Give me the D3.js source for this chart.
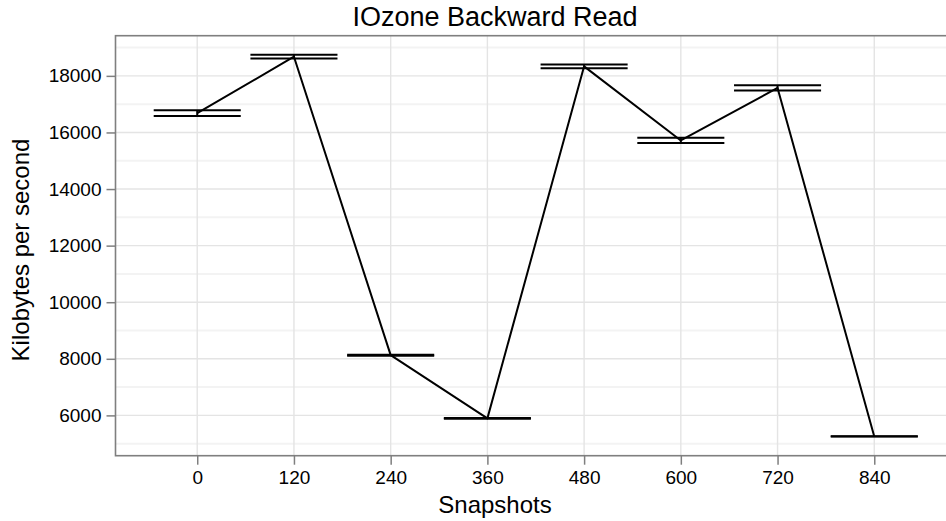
<!DOCTYPE html>
<html>
<head>
<meta charset="utf-8">
<script src="https://cdn.jsdelivr.net/npm/d3@7"></script>
<style>
  html, body { margin: 0; padding: 0; background: #fff; }
  svg { display: block; font-family: "Liberation Sans", Arial, Helvetica, sans-serif; }
</style>
</head>
<body>
<svg id="chart" width="946" height="521"></svg>
<script>
const categories = ["0", "120", "240", "360", "480", "600", "720", "840"];
const meanValues = [16680, 18677, 8128, 5894, 18337, 15716, 17574, 5256];
const lowerValues = [16583, 18613, 8112, 5878, 18270, 15624, 17479, 5250];
const upperValues = [16785, 18745, 8145, 5910, 18400, 15812, 17667, 5262];
const yTicks = [6000, 8000, 10000, 12000, 14000, 16000, 18000];
const yMinorTicks = [5000, 7000, 9000, 11000, 13000, 15000, 17000, 19000];
const titleText = "IOzone Backward Read";
const xTitle = "Snapshots";
const yTitle = "Kilobytes per second";

const data = categories.map((c, i) => ({ c, i, m: meanValues[i], lo: lowerValues[i], hi: upperValues[i] }));

const panel = { left: 115.5, right: 956, top: 35.7, bottom: 455.7 };
const svg = d3.select("#chart");

// x: discrete positions with ggplot-like expansion
const x = d3.scaleLinear().domain([-0.845, categories.length - 1 + 0.845]).range([panel.left, panel.right]);
const halfW = 0.45;

const yLo = d3.min(lowerValues), yHi = d3.max(upperValues);
const pad = (yHi - yLo) * 0.05;
const y = d3.scaleLinear().domain([yLo - pad, yHi + pad]).range([panel.bottom, panel.top]);

const g = svg.append("g");

// minor grid
g.selectAll(".ymin").data(yMinorTicks.filter(v => y(v) > panel.top && y(v) < panel.bottom)).enter().append("line")
  .attr("x1", panel.left).attr("x2", panel.right)
  .attr("y1", d => y(d)).attr("y2", d => y(d))
  .attr("stroke", "#f3f3f3").attr("stroke-width", 2);

// major grid
g.selectAll(".ymaj").data(yTicks).enter().append("line")
  .attr("x1", panel.left).attr("x2", panel.right)
  .attr("y1", d => y(d)).attr("y2", d => y(d))
  .attr("stroke", "#e4e4e4").attr("stroke-width", 1.4);
g.selectAll(".xmaj").data(data).enter().append("line")
  .attr("y1", panel.top).attr("y2", panel.bottom)
  .attr("x1", d => x(d.i)).attr("x2", d => x(d.i))
  .attr("stroke", "#e4e4e4").attr("stroke-width", 1.4);

// axes
const yAxis = d3.axisLeft(y).tickValues(yTicks).tickSize(9).tickPadding(5).tickFormat(d3.format("d"));
const yG = svg.append("g").attr("transform", `translate(${panel.left},0)`).call(yAxis);
yG.select(".domain").remove();
yG.selectAll("line").attr("stroke", "#7f7f7f").attr("stroke-width", 1.5);
yG.selectAll("text").attr("font-size", 19).attr("fill", "#000").attr("font-family", "Liberation Sans, Arial, sans-serif");

const xAxis = d3.axisBottom(x).tickValues(d3.range(categories.length)).tickFormat(i => categories[i]).tickSize(9).tickPadding(6);
const xG = svg.append("g").attr("transform", `translate(0,${panel.bottom})`).call(xAxis);
xG.select(".domain").remove();
xG.selectAll("line").attr("stroke", "#7f7f7f").attr("stroke-width", 1.5);
xG.selectAll("text").attr("font-size", 19).attr("fill", "#000").attr("font-family", "Liberation Sans, Arial, sans-serif");

// panel border
svg.append("rect").attr("x", panel.left).attr("y", panel.top)
  .attr("width", panel.right - panel.left).attr("height", panel.bottom - panel.top)
  .attr("fill", "none").attr("stroke", "#7f7f7f").attr("stroke-width", 1.6);

// error bars
const eb = svg.append("g").attr("stroke", "#000").attr("stroke-width", 2).attr("fill", "none");
eb.selectAll(".cap-hi").data(data).enter().append("line")
  .attr("x1", d => x(d.i - halfW)).attr("x2", d => x(d.i + halfW))
  .attr("y1", d => y(d.hi)).attr("y2", d => y(d.hi));
eb.selectAll(".cap-lo").data(data).enter().append("line")
  .attr("x1", d => x(d.i - halfW)).attr("x2", d => x(d.i + halfW))
  .attr("y1", d => y(d.lo)).attr("y2", d => y(d.lo));
eb.selectAll(".stem").data(data).enter().append("line")
  .attr("x1", d => x(d.i)).attr("x2", d => x(d.i))
  .attr("y1", d => y(d.lo)).attr("y2", d => y(d.hi));

// line
const line = d3.line().x(d => x(d.i)).y(d => y(d.m));
svg.append("path").datum(data).attr("d", line)
  .attr("fill", "none").attr("stroke", "#000").attr("stroke-width", 2).attr("stroke-linejoin", "round");

// titles
svg.append("text").attr("x", 495).attr("y", 26).attr("text-anchor", "middle")
  .attr("font-size", 27).attr("fill", "#000").text(titleText);
svg.append("text").attr("x", 495).attr("y", 513).attr("text-anchor", "middle")
  .attr("font-size", 24).attr("fill", "#000").text(xTitle);
svg.append("text").attr("transform", "translate(29,250) rotate(-90)").attr("text-anchor", "middle")
  .attr("font-size", 24).attr("fill", "#000").text(yTitle);
</script>
</body>
</html>
